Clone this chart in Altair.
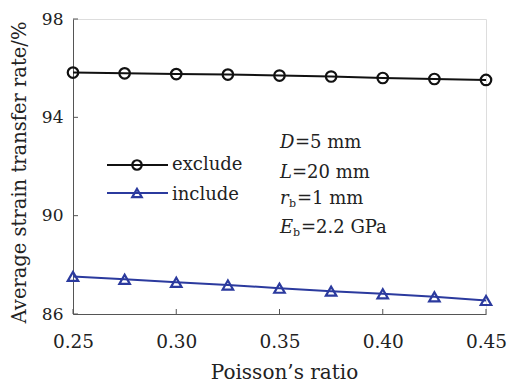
import altair as alt
import pandas as pd

poisson = [0.25, 0.275, 0.30, 0.325, 0.35, 0.375, 0.40, 0.425, 0.45]
exclude = [95.82, 95.79, 95.76, 95.74, 95.70, 95.66, 95.60, 95.56, 95.52]
include = [87.53, 87.41, 87.29, 87.18, 87.05, 86.93, 86.82, 86.70, 86.55]
series_names = ["exclude", "include"]
series_colors = ["#111111", "#2b3a9e"]
series_shapes = ["circle", "triangle-up"]
x_ticks = [0.25, 0.30, 0.35, 0.40, 0.45]
y_ticks = [86, 90, 94, 98]

W, H = 413, 295
FONT = "DejaVu Serif"

df = pd.DataFrame({
    "nu": poisson * 2,
    "rate": exclude + include,
    "series": ["exclude"] * len(poisson) + ["include"] * len(poisson),
})

xs = alt.Scale(domain=[0.25, 0.45], nice=False)
ys = alt.Scale(domain=[86, 98], nice=False)
cs = alt.Scale(domain=series_names, range=series_colors)
ss = alt.Scale(domain=series_names, range=series_shapes)

xax = alt.Axis(values=x_ticks, format=".2f", tickSize=0, labelPadding=18, labelFont=FONT,
               labelFontSize=18.5, labelColor="#222", title="Poisson\u2019s ratio", titleFont=FONT,
               titleFontSize=20, titleFontWeight="normal", titleColor="#222", titlePadding=12,
               titleX=211, grid=False, domainColor="#555", labelFlush=False)
yax = alt.Axis(values=y_ticks, tickSize=0, labelPadding=10, labelFont=FONT, labelFontSize=17,
               labelColor="#222", title="Average strain transfer rate/%", titleFont=FONT,
               titleFontSize=19.5, titleFontWeight="normal", titleColor="#222", titlePadding=12,
               titleY=153, grid=False, domainColor="#555", labelFlush=False)

base = alt.Chart(df)
lines = base.mark_line(strokeWidth=2).encode(
    x=alt.X("nu:Q", scale=xs, axis=xax),
    y=alt.Y("rate:Q", scale=ys, axis=yax),
    color=alt.Color("series:N", scale=cs, legend=None),
    detail="series:N",
)
points = base.mark_point(size=110, strokeWidth=2.2, filled=False, opacity=1).encode(
    x=alt.X("nu:Q", scale=xs),
    y=alt.Y("rate:Q", scale=ys),
    color=alt.Color("series:N", scale=cs, legend=None),
    shape=alt.Shape("series:N", scale=ss, legend=None),
)

# inward ticks
xt = alt.Chart(pd.DataFrame({"v": x_ticks})).mark_rule(color="#555", strokeWidth=1).encode(
    x=alt.X("v:Q", scale=xs), y=alt.value(H), y2=alt.value(H - 5))
yt = alt.Chart(pd.DataFrame({"v": y_ticks})).mark_rule(color="#555", strokeWidth=1).encode(
    y=alt.Y("v:Q", scale=ys), x=alt.value(0), x2=alt.value(5))

# manual legend
leg = pd.DataFrame({"series": series_names, "ly": [146, 174], "ty": [151, 181]})
leg_line = alt.Chart(leg).mark_rule(strokeWidth=2).encode(
    x=alt.value(34), x2=alt.value(95), y=alt.Y("ly:Q", scale=None),
    color=alt.Color("series:N", scale=cs, legend=None))
leg_pt = alt.Chart(leg).mark_point(size=90, strokeWidth=2.2, filled=False, opacity=1).encode(
    x=alt.value(64), y=alt.Y("ly:Q", scale=None),
    color=alt.Color("series:N", scale=cs, legend=None),
    shape=alt.Shape("series:N", scale=ss, legend=None))
leg_txt = alt.Chart(leg).mark_text(align="left", baseline="alphabetic", font=FONT, fontSize=18,
                                   color="#222").encode(
    x=alt.value(99), y=alt.Y("ty:Q", scale=None), text="series:N")

# parameter annotation
ital = ["D", "L", "r", "E"]
subs = ["", "", "b", "b"]
rest = ["=5 mm", "=20 mm", "=1 mm", "=2.2 GPa"]
ann = pd.DataFrame({"it": ital, "sub": subs, "rest": rest, "ay": [129, 159, 185, 214],
                    "rx": [222, 219, 224, 228], "sx": [0, 0, 216, 220]})
ann_it = alt.Chart(ann).mark_text(align="left", baseline="alphabetic", font=FONT, fontSize=18,
                                  fontStyle="italic", color="#222").encode(
    x=alt.value(207), y=alt.Y("ay:Q", scale=None), text="it:N")
ann_sub = alt.Chart(ann[ann["sub"] != ""]).mark_text(align="left", baseline="alphabetic", font=FONT,
                                                     fontSize=11, color="#222", dy=3).encode(
    x=alt.X("sx:Q", scale=None), y=alt.Y("ay:Q", scale=None), text="sub:N")
ann_rest = alt.Chart(ann).mark_text(align="left", baseline="alphabetic", font=FONT, fontSize=18,
                                    color="#222").encode(
    x=alt.X("rx:Q", scale=None), y=alt.Y("ay:Q", scale=None), text="rest:N")

chart = alt.layer(lines, points, xt, yt, leg_line, leg_pt, leg_txt, ann_it, ann_sub, ann_rest).properties(
    width=W, height=H, autosize=alt.AutoSizeParams(type="none"),
    padding={"left": 65, "top": 11, "right": 22, "bottom": 74}
).configure_view(stroke="#555", strokeWidth=1.2).configure(background="white")

chart.save("out.html", embed_options={"renderer": "svg", "actions": False})
